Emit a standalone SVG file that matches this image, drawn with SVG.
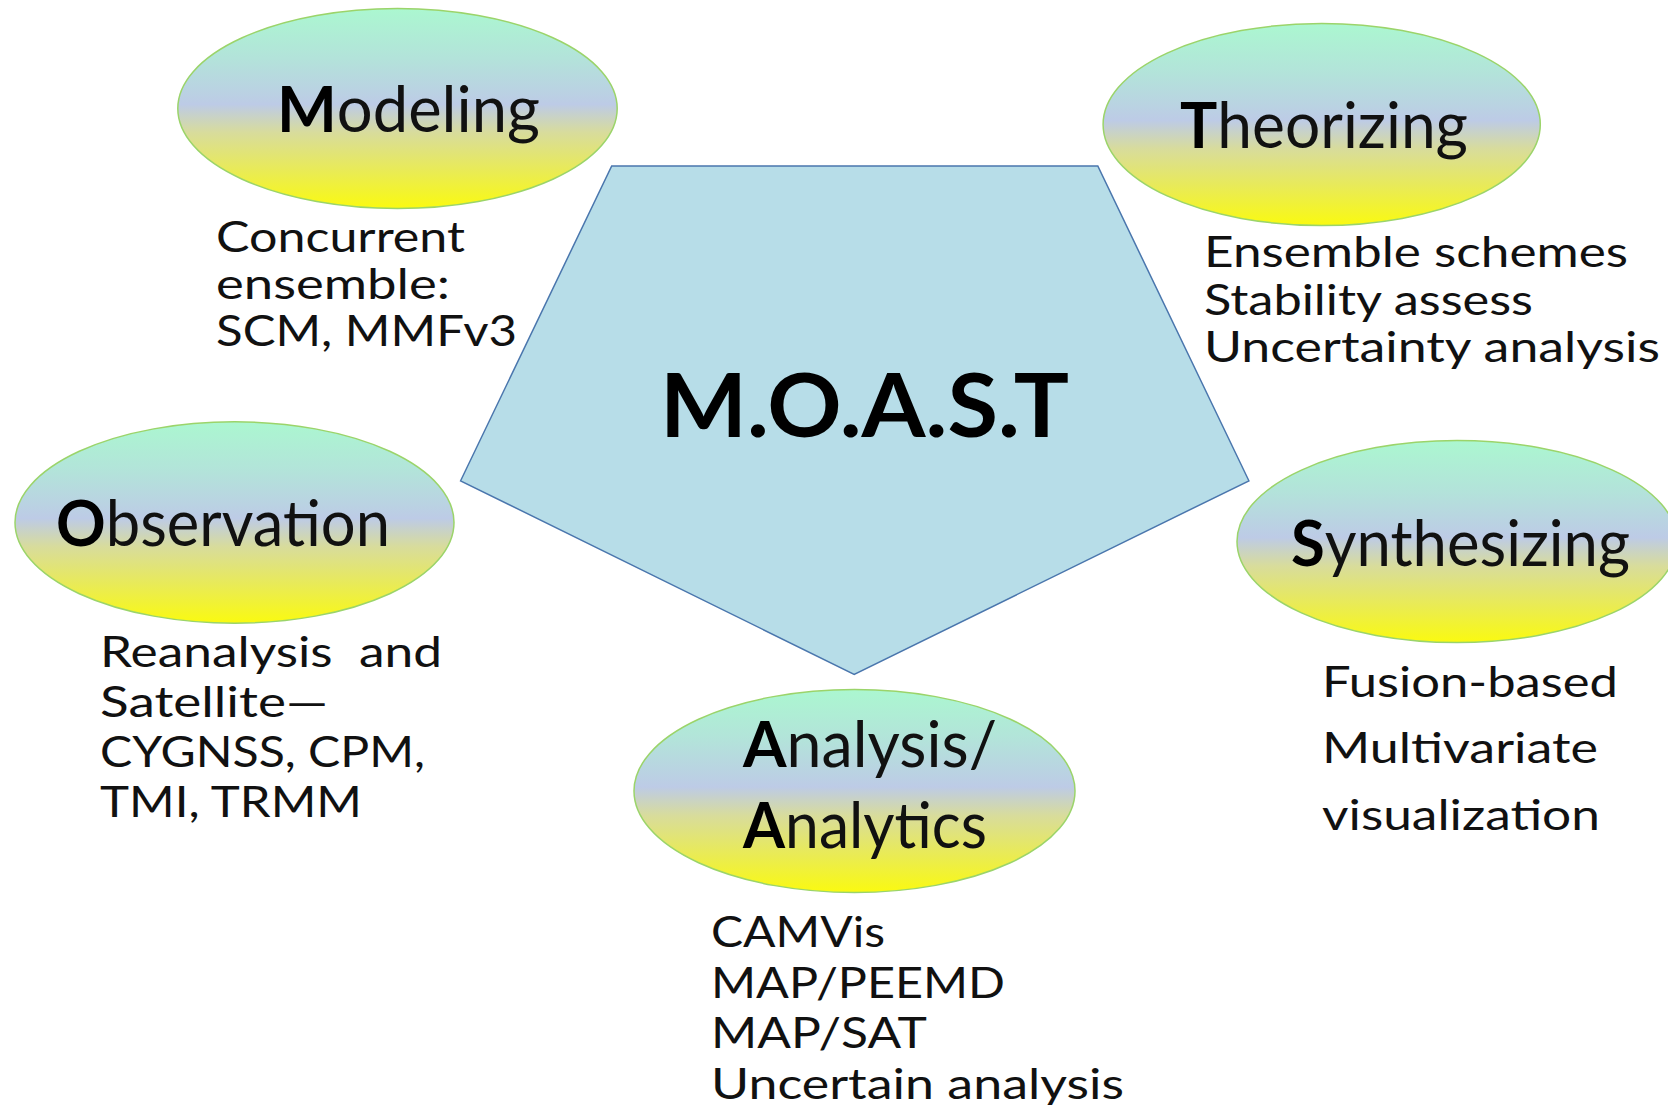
<svg xmlns="http://www.w3.org/2000/svg" width="1668" height="1105" viewBox="0 0 1668 1105">
<defs>
<linearGradient id="eg" x1="0" y1="0" x2="0" y2="1">
<stop offset="0" stop-color="#abf7d0"/>
<stop offset="0.25" stop-color="#b3e3da"/>
<stop offset="0.48" stop-color="#bdcbe6"/>
<stop offset="0.62" stop-color="#d8dc9c"/>
<stop offset="0.8" stop-color="#e8ea5a"/>
<stop offset="1" stop-color="#fafa10"/>
</linearGradient>
</defs>
<style>
.ell{fill:url(#eg);stroke:#9bd46a;stroke-width:1.5}
.pent{fill:#b7dde8;stroke:#4a76ad;stroke-width:1.5}
.t{font-family:Lato,"Open Sans","Liberation Sans",sans-serif;font-size:64px;fill:#111}
.b{font-weight:bold;fill:#000}
.d{font-family:Lato,"Open Sans","Liberation Sans",sans-serif;font-size:43px;fill:#111;white-space:pre}
.big{font-family:Lato,"Open Sans","Liberation Sans",sans-serif;font-size:88px;font-weight:bold;fill:#000}
</style>
<rect width="1668" height="1105" fill="#fff"/>
<g id="connectors"/>
<g id="moast">
<polygon class="pent" points="611.7,166 1097.8,166 1248.9,480.8 854.2,674.4 460.6,480.8"/>
<text class="big" x="660" y="437" textLength="409" lengthAdjust="spacingAndGlyphs">M.O.A.S.T</text>
</g>
<g id="modeling">
<ellipse class="ell" cx="397.5" cy="108.5" rx="219.7" ry="100"/>
<text class="t" x="277" y="132" textLength="263" lengthAdjust="spacingAndGlyphs"><tspan class="b">M</tspan>odeling</text>
<text class="d" x="216" y="252" textLength="249" lengthAdjust="spacingAndGlyphs">Concurrent</text>
<text class="d" x="216" y="299" textLength="234" lengthAdjust="spacingAndGlyphs">ensemble:</text>
<text class="d" x="216" y="346" textLength="301" lengthAdjust="spacingAndGlyphs">SCM, MMFv3</text>
</g>
<g id="theorizing">
<ellipse class="ell" cx="1321.7" cy="124.5" rx="218.6" ry="101"/>
<text class="t" x="1180" y="148" textLength="288" lengthAdjust="spacingAndGlyphs"><tspan class="b">T</tspan>heorizing</text>
<text class="d" x="1204" y="267" textLength="424" lengthAdjust="spacingAndGlyphs">Ensemble schemes</text>
<text class="d" x="1204" y="315" textLength="329" lengthAdjust="spacingAndGlyphs">Stability assess</text>
<text class="d" x="1204" y="362" textLength="456" lengthAdjust="spacingAndGlyphs">Uncertainty analysis</text>
</g>
<g id="observation">
<ellipse class="ell" cx="234.5" cy="522.5" rx="219.5" ry="100.7"/>
<text class="t" x="56" y="546" textLength="334" lengthAdjust="spacingAndGlyphs"><tspan class="b">O</tspan>bservation</text>
<text class="d" x="100" y="667" textLength="342" lengthAdjust="spacingAndGlyphs">Reanalysis  and</text>
<text class="d" x="100" y="717" textLength="228" lengthAdjust="spacingAndGlyphs">Satellite—</text>
<text class="d" x="100" y="767" textLength="325" lengthAdjust="spacingAndGlyphs">CYGNSS, CPM,</text>
<text class="d" x="100" y="817" textLength="262" lengthAdjust="spacingAndGlyphs">TMI, TRMM</text>
</g>
<g id="synthesizing">
<ellipse class="ell" cx="1457" cy="541.5" rx="220" ry="101"/>
<text class="t" x="1291" y="566" textLength="339" lengthAdjust="spacingAndGlyphs"><tspan class="b">S</tspan>ynthesizing</text>
<text class="d" x="1322" y="697" textLength="296" lengthAdjust="spacingAndGlyphs">Fusion-based</text>
<text class="d" x="1322" y="763" textLength="276" lengthAdjust="spacingAndGlyphs">Multivariate</text>
<text class="d" x="1322" y="830" textLength="278" lengthAdjust="spacingAndGlyphs">visualization</text>
</g>
<g id="analysis">
<ellipse class="ell" cx="854.5" cy="791" rx="220.5" ry="101.5"/>
<text class="t" x="743" y="767" textLength="254" lengthAdjust="spacingAndGlyphs"><tspan class="b">A</tspan>nalysis/</text>
<text class="t" x="743" y="848" textLength="244" lengthAdjust="spacingAndGlyphs"><tspan class="b">A</tspan>nalytics</text>
<text class="d" x="711" y="947" textLength="174" lengthAdjust="spacingAndGlyphs">CAMVis</text>
<text class="d" x="711" y="998" textLength="294" lengthAdjust="spacingAndGlyphs">MAP/PEEMD</text>
<text class="d" x="711" y="1048" textLength="216" lengthAdjust="spacingAndGlyphs">MAP/SAT</text>
<text class="d" x="711" y="1099" textLength="413" lengthAdjust="spacingAndGlyphs">Uncertain analysis</text>
</g>
</svg>
